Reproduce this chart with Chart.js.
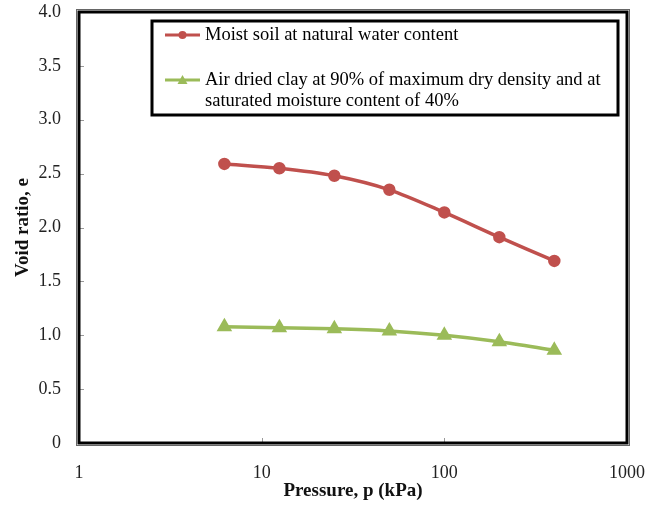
<!DOCTYPE html>
<html>
<head>
<meta charset="utf-8">
<script src="https://cdn.jsdelivr.net/npm/chart.js@4/dist/chart.umd.min.js"></script>
<style>
  body { margin: 0; background: #fff; }
  #wrap { width: 659px; height: 510px; }
</style>
</head>
<body>
<div id="wrap"><canvas id="voidChart"></canvas></div>
<script>
// Consolidation data: pressure (kPa) vs void ratio
const pressures = [6.25, 12.5, 25, 50, 100, 200, 400];
const moistSoil = [2.59, 2.55, 2.48, 2.35, 2.14, 1.91, 1.69];
const airDriedClay = [1.08, 1.07, 1.06, 1.04, 1.00, 0.94, 0.86];
const xTicks = [1, 10, 100, 1000];
const yTicks = [0, 0.5, 1.0, 1.5, 2.0, 2.5, 3.0, 3.5, 4.0];

const seriesNames = [
    ['Moist soil at natural water content'],
    ['Air dried clay at 90% of maximum dry density and at', 'saturated moisture content of 40%']
];

const serif = '"Liberation Serif", "Times New Roman", serif';

// frame, inner tick marks and boxed legend
const framePlugin = {
    id: 'frame',
    afterDraw(chart) {
        const ctx = chart.ctx;
        const a = chart.chartArea;
        const xs = chart.scales.x, ys = chart.scales.y;
        ctx.save();

        // short tick marks pointing into the plot
        ctx.strokeStyle = '#999';
        ctx.lineWidth = 1;
        ctx.beginPath();
        yTicks.forEach(v => {
            const y = Math.round(ys.getPixelForValue(v)) + 0.5;
            ctx.moveTo(a.left, y);
            ctx.lineTo(a.left + 5, y);
        });
        xTicks.forEach(v => {
            const x = Math.round(xs.getPixelForValue(v)) + 0.5;
            ctx.moveTo(x, a.bottom);
            ctx.lineTo(x, a.bottom - 5);
        });
        ctx.stroke();

        // plot border
        ctx.strokeStyle = '#666';
        ctx.lineWidth = 1;
        ctx.strokeRect(a.left - 2.5, a.top - 2.5, a.right - a.left + 5, a.bottom - a.top + 5);
        ctx.strokeStyle = '#000';
        ctx.lineWidth = 3;
        ctx.strokeRect(a.left, a.top, a.right - a.left, a.bottom - a.top);

        // legend box
        const lx = 152, ly = 21, lw = 466, lh = 94;
        ctx.fillStyle = '#fff';
        ctx.fillRect(lx, ly, lw, lh);
        ctx.strokeStyle = '#000';
        ctx.lineWidth = 3;
        ctx.strokeRect(lx, ly, lw, lh);

        const rows = [35, 80];
        chart.data.datasets.forEach((ds, i) => {
            const y = rows[i];
            ctx.strokeStyle = ds.borderColor;
            ctx.lineWidth = 3;
            ctx.beginPath();
            ctx.moveTo(165, y);
            ctx.lineTo(200, y);
            ctx.stroke();
            ctx.fillStyle = ds.borderColor;
            ctx.beginPath();
            if (ds.pointStyle === 'triangle') {
                ctx.moveTo(182.5, y - 5);
                ctx.lineTo(187.5, y + 4);
                ctx.lineTo(177.5, y + 4);
                ctx.closePath();
            } else {
                ctx.arc(182.5, y, 4, 0, Math.PI * 2);
            }
            ctx.fill();

            ctx.fillStyle = '#000';
            ctx.font = '18.5px ' + serif;
            ctx.textBaseline = 'middle';
            ctx.textAlign = 'left';
            seriesNames[i].forEach((line, k) => ctx.fillText(line, 205, y + k * 21));
        });
        ctx.restore();
    }
};

new Chart(document.getElementById('voidChart').getContext('2d'), {
    type: 'line',
    data: {
        datasets: [{
            label: seriesNames[0].join(' '),
            data: pressures.map((p, i) => ({ x: p, y: moistSoil[i] })),
            borderColor: '#C0504D',
            backgroundColor: '#C0504D',
            borderWidth: 3.5,
            pointStyle: 'circle',
            pointRadius: 4.5,
            pointHoverRadius: 4.5,
            tension: 0.3
        }, {
            label: seriesNames[1].join(' '),
            data: pressures.map((p, i) => ({ x: p, y: airDriedClay[i] })),
            borderColor: '#9BBB59',
            backgroundColor: '#9BBB59',
            borderWidth: 3.5,
            pointStyle: 'triangle',
            pointRadius: 5.5,
            pointHoverRadius: 5.5,
            tension: 0.3
        }]
    },
    options: {
        responsive: true,
        maintainAspectRatio: false,
        animation: false,
        layout: { padding: { left: 0, right: 32, top: 0, bottom: 0 } },
        scales: {
            x: {
                type: 'logarithmic',
                min: 1,
                max: 1000,
                afterBuildTicks: scale => { scale.ticks = xTicks.map(v => ({ value: v })); },
                afterFit: scale => {
                    scale.height = 67;
                    scale.paddingLeft = 0;
                    scale.paddingRight = 0;
                },
                grid: { display: false, drawTicks: false },
                border: { display: false },
                ticks: {
                    color: '#222',
                    font: { family: serif, size: 18 },
                    padding: 19,
                    maxRotation: 0,
                    callback: v => String(v)
                },
                title: {
                    display: true,
                    text: 'Pressure, p (kPa)',
                    color: '#111',
                    font: { family: serif, size: 19, weight: 'bold' },
                    padding: { top: 0, bottom: 8 }
                }
            },
            y: {
                min: 0,
                max: 4,
                afterBuildTicks: scale => { scale.ticks = yTicks.map(v => ({ value: v })); },
                afterFit: scale => {
                    scale.width = 79;
                    scale.paddingTop = 12;
                    scale.paddingBottom = 0;
                },
                grid: { display: false, drawTicks: false },
                border: { display: false },
                ticks: {
                    color: '#222',
                    font: { family: serif, size: 18 },
                    padding: 18,
                    callback: v => v === 0 ? '0' : v.toFixed(1)
                },
                title: {
                    display: true,
                    text: 'Void ratio, e',
                    color: '#111',
                    font: { family: serif, size: 19, weight: 'bold' },
                    padding: { top: 12, bottom: 0 }
                }
            }
        },
        plugins: {
            legend: { display: false },
            tooltip: { enabled: false }
        }
    },
    plugins: [framePlugin]
});
</script>
</body>
</html>
